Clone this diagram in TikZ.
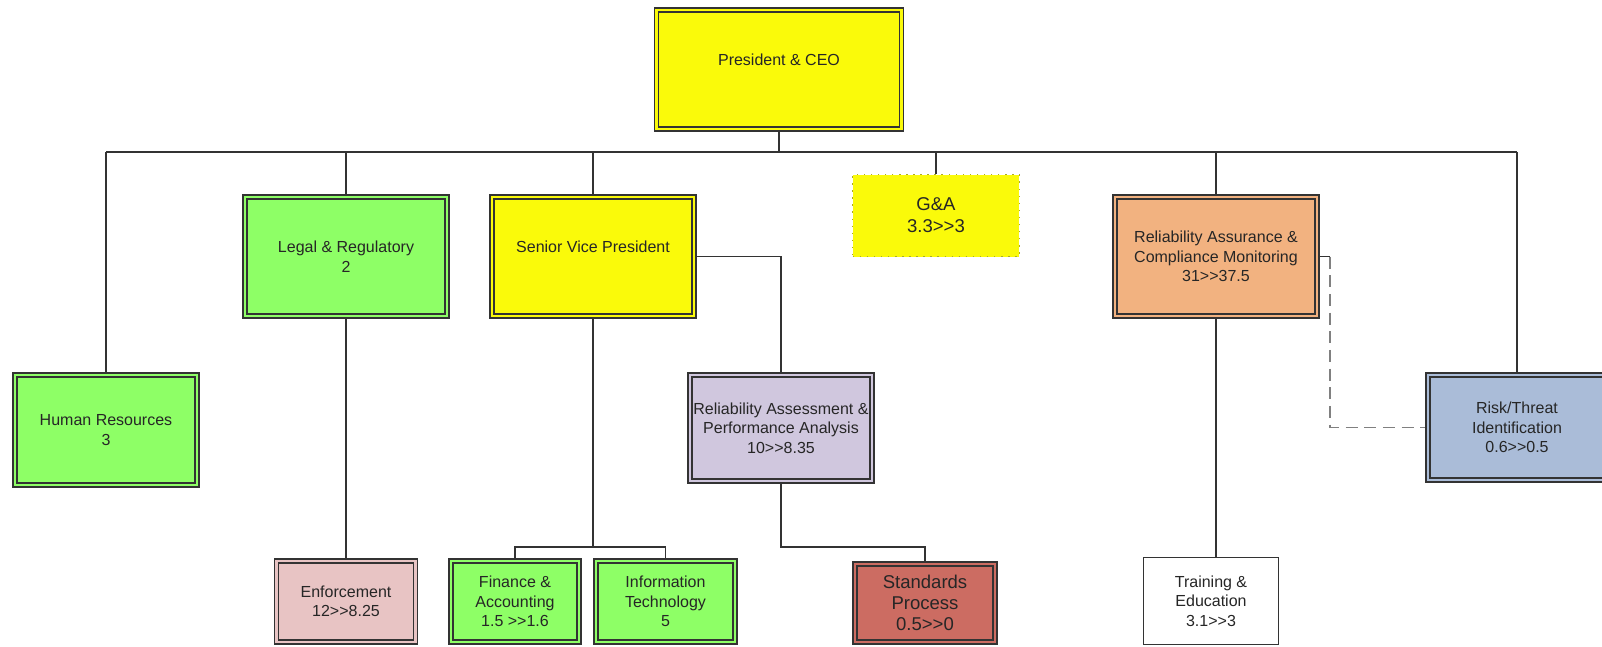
\documentclass[tikz,border=0pt]{standalone}
\usepackage{fontspec}
\setmainfont{Liberation Sans}[Ligatures=TeXOff]
\usepackage{xcolor}
\usepackage{tikz}
\usetikzlibrary{positioning}

\definecolor{unityellow}{RGB}{250,250,10}
\definecolor{unitgreen}{RGB}{142,255,102}
\definecolor{unitpink}{RGB}{232,196,196}
\definecolor{unitlilac}{RGB}{208,199,222}
\definecolor{unitorange}{RGB}{242,178,128}
\definecolor{unitblue}{RGB}{170,188,216}
\definecolor{unitred}{RGB}{204,108,98}
\definecolor{gadot}{RGB}{170,170,40}

\begin{document}
\begin{tikzpicture}[x=0.75pt,y=0.75pt,yscale=-1,xscale=1,
  unit/.style={draw=black!80, line width=1.25pt, double distance=1.9pt, outer sep=2.2pt,
    inner sep=0pt, align=center, text=black!85, font=\fontsize{12}{14.6}\selectfont},
  yellowunit/.style={unit, fill=unityellow, double=unityellow},
  greenunit/.style={unit, fill=unitgreen, double=unitgreen},
  pinkunit/.style={unit, fill=unitpink, double=unitpink},
  lilacunit/.style={unit, fill=unitlilac, double=unitlilac},
  orangeunit/.style={unit, fill=unitorange, double=unitorange},
  blueunit/.style={unit, fill=unitblue, double=unitblue},
  redunit/.style={unit, fill=unitred, double=unitred, font=\fontsize{13.9}{15.8}\selectfont},
  plainunit/.style={draw=black!80, line width=1pt, fill=white, inner sep=0pt,
    align=center, text=black!85, font=\fontsize{12}{14.6}\selectfont},
  dotunit/.style={draw=gadot, line width=1.1pt, dash pattern=on 1.1pt off 4.2pt,
    fill=unityellow, inner sep=0pt, align=center, text=black!85,
    font=\fontsize{13.9}{16.5}\selectfont},
  link/.style={draw=black!80, line width=1pt},
  dashlink/.style={draw=black!50, line width=1.1pt, dash pattern=on 9pt off 5pt}
]
\useasboundingbox (0,0) rectangle (1602,646);

%Shape: Rectangle [id:ceo]
\node [yellowunit, minimum width=183.75pt, minimum height=89.25pt] (ceo) at (779,69.5) {President \& CEO\\\mbox{}};
%Shape: Rectangle [id:hr]
\node [greenunit, minimum width=136.5pt, minimum height=82.5pt] (hr) at (106,430) {Human Resources\\3};
%Shape: Rectangle [id:legal]
\node [greenunit, minimum width=151.5pt, minimum height=89.25pt] (legal) at (346,256.5) {Legal \& Regulatory\\2};
%Shape: Rectangle [id:svp]
\node [yellowunit, minimum width=151.5pt, minimum height=89.25pt] (svp) at (593,256.5) {Senior Vice President\\\mbox{}};
%Shape: Rectangle [id:ga]
\node [dotunit, minimum width=125pt, minimum height=61.5pt] (ga) at (936,215.5) {G\&A\\3.3>>3};
%Shape: Rectangle [id:racm]
\node [orangeunit, minimum width=151.5pt, minimum height=89.25pt] (racm) at (1216,256.5) {Reliability Assurance \&\\Compliance Monitoring\\31>>37.5};
%Shape: Rectangle [id:ra]
\node [lilacunit, minimum width=136.5pt, minimum height=79.5pt] (ra) at (781,428) {Reliability Assessment \&\\Performance Analysis\\10>>8.35};
%Shape: Rectangle [id:risk]
\node [blueunit, minimum width=133.5pt, minimum height=78.75pt] (risk) at (1517,427.5) {Risk/Threat\\Identification\\0.6>>0.5};
%Shape: Rectangle [id:enf]
\node [pinkunit, minimum width=104.25pt, minimum height=60.75pt] (enf) at (346,601.5) {Enforcement\\12>>8.25};
%Shape: Rectangle [id:fin]
\node [greenunit, minimum width=96pt, minimum height=60.75pt] (fin) at (515,601.5) {Finance \&\\Accounting\\1.5 >>1.6};
%Shape: Rectangle [id:it]
\node [greenunit, minimum width=104.25pt, minimum height=60.75pt] (it) at (665.5,601.5) {Information\\Technology\\5};
%Shape: Rectangle [id:std]
\node [redunit, minimum width=105pt, minimum height=58.5pt] (std) at (925,603) {Standards\\Process\\0.5>>0};
%Shape: Rectangle [id:train]
\node [plainunit, minimum width=101pt, minimum height=65pt] (train) at (1211,601) {Training \&\\Education\\3.1>>3};

% Bus levels
\coordinate (bus) at (0,152);
\coordinate (lowbus) at (0,547);

%Straight Lines [id:bus]
\draw [link] (ceo.south) -- (ceo.south |- bus);
\draw [link] (hr.north |- bus) -- (risk.north |- bus);
\draw [link] (hr.north) -- (hr.north |- bus);
\draw [link] (legal.north) -- (legal.north |- bus);
\draw [link] (svp.north) -- (svp.north |- bus);
\draw [link] (ga.north) -- (ga.north |- bus);
\draw [link] (racm.north) -- (racm.north |- bus);
\draw [link] (risk.north) -- (risk.north |- bus);

%Straight Lines [id:lower]
\draw [link] (legal.south) -- (legal.south |- enf.north);
\draw [link] (svp.south) -- (svp.south |- lowbus);
\draw [link] (fin.north) |- (it.north |- lowbus) -- (it.north);
\draw [link] (svp.east) -| (ra.north);
\draw [link] (ra.south) |- (std.north |- lowbus) -- (std.north);
\draw [link] (racm.south) -- (racm.south |- train.north);

%Straight Lines [id:dashed]
\draw [link] (racm.east) -- ++(10,0) coordinate (dashcorner);
\draw [dashlink] (dashcorner) |- (risk.west);

\end{tikzpicture}
\end{document}
